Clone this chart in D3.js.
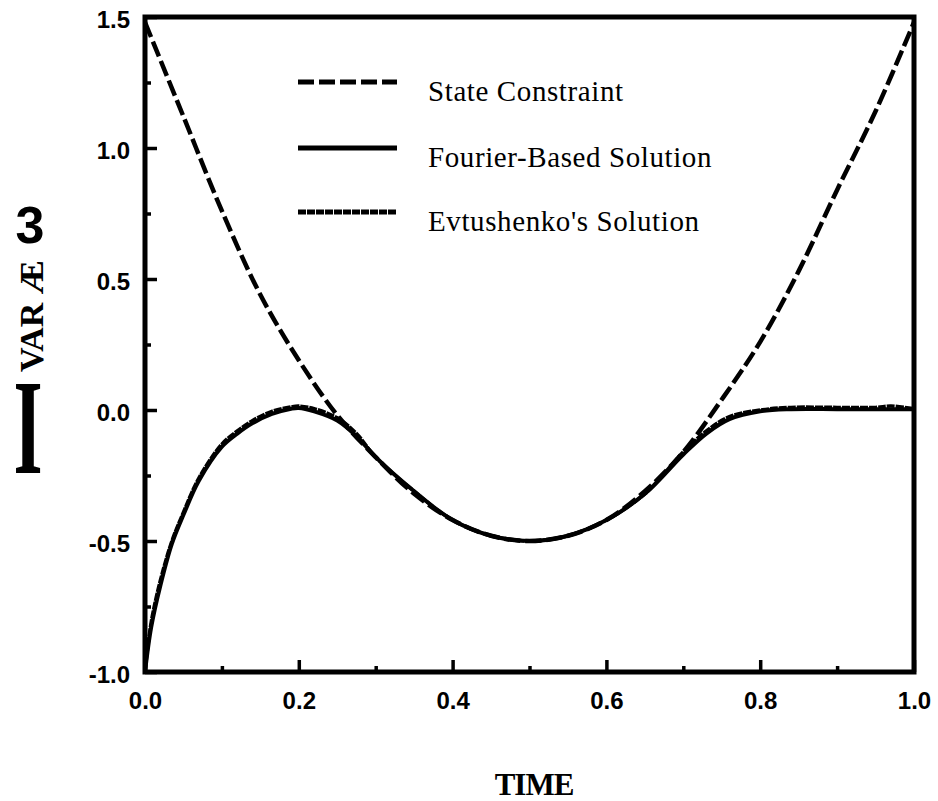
<!DOCTYPE html>
<html>
<head>
<meta charset="utf-8">
<script src="https://cdn.jsdelivr.net/npm/d3@7"></script>
<style>
  body { margin: 0; background: #fff; }
  svg { display: block; }
</style>
</head>
<body>
<div id="chart"></div>
<script>
// values
const constraintTime = [0, 0.05, 0.1, 0.15, 0.2, 0.25, 0.3, 0.35, 0.4, 0.45, 0.5, 0.55, 0.6, 0.65, 0.7, 0.75, 0.8, 0.85, 0.9, 0.95, 1.0];
const stateConstraint = [1.48, 1.12, 0.76, 0.44, 0.19, -0.02, -0.18, -0.32, -0.42, -0.48, -0.50, -0.48, -0.42, -0.31, -0.16, 0.04, 0.26, 0.53, 0.84, 1.14, 1.48];

const fourierTime = [0, 0.008, 0.02, 0.035, 0.05, 0.07, 0.1, 0.12, 0.14, 0.165, 0.19, 0.2, 0.22, 0.25, 0.275, 0.3, 0.35, 0.4, 0.45, 0.5, 0.55, 0.6, 0.65, 0.7, 0.73, 0.76, 0.8, 0.84, 0.9, 0.95, 1.0];
const fourierSolution = [-1.0, -0.83, -0.67, -0.51, -0.40, -0.27, -0.14, -0.09, -0.05, -0.015, 0.005, 0.008, -0.005, -0.04, -0.1, -0.18, -0.31, -0.42, -0.48, -0.5, -0.48, -0.42, -0.32, -0.17, -0.09, -0.035, -0.005, 0.003, 0.003, 0.003, 0.003];

const evtushenkoTime = [0, 0.008, 0.02, 0.035, 0.05, 0.07, 0.1, 0.12, 0.14, 0.165, 0.19, 0.2, 0.22, 0.25, 0.275, 0.3, 0.35, 0.4, 0.45, 0.5, 0.55, 0.6, 0.65, 0.7, 0.73, 0.76, 0.8, 0.84, 0.9, 0.95, 0.97, 1.0];
const evtushenkoSolution = [-1.0, -0.81, -0.65, -0.50, -0.39, -0.26, -0.13, -0.08, -0.04, -0.005, 0.012, 0.015, 0.005, -0.03, -0.09, -0.18, -0.31, -0.42, -0.48, -0.5, -0.48, -0.42, -0.32, -0.16, -0.08, -0.025, 0.0, 0.01, 0.01, 0.01, 0.015, 0.005];

const xTicks = [0, 0.2, 0.4, 0.6, 0.8, 1.0];
const xMinorTicks = [0.1, 0.3, 0.5, 0.7, 0.9];
const yTicks = [-1.0, -0.5, 0.0, 0.5, 1.0, 1.5];
const yMinorTicks = [-0.75, -0.25, 0.25, 0.75, 1.25];

const legendLabels = ["State Constraint", "Fourier-Based Solution", "Evtushenko's Solution"];

var width = 938, height = 801;
var svg = d3.select("#chart").append("svg")
  .attr("width", width)
  .attr("height", height);

var x = d3.scaleLinear().domain([0, 1]).range([145, 914]);
var y = d3.scaleLinear().domain([-1, 1.5]).range([672, 17]);

var fmt = function(d) { return d.toFixed(1); };

// minor ticks
svg.append("g")
  .attr("transform", "translate(0," + y(-1) + ")")
  .call(d3.axisBottom(x).tickValues(xMinorTicks).tickSizeInner(-6).tickSizeOuter(0).tickFormat(""))
  .call(g => g.select(".domain").remove());
svg.append("g")
  .attr("transform", "translate(" + x(0) + ",0)")
  .call(d3.axisLeft(y).tickValues(yMinorTicks).tickSizeInner(-6).tickSizeOuter(0).tickFormat(""))
  .call(g => g.select(".domain").remove());

// major ticks + labels
var xAxis = svg.append("g")
  .attr("transform", "translate(0," + y(-1) + ")")
  .call(d3.axisBottom(x).tickValues(xTicks).tickSizeInner(-12).tickSizeOuter(0).tickPadding(20).tickFormat(fmt));
xAxis.select(".domain").remove();

var yAxis = svg.append("g")
  .attr("transform", "translate(" + x(0) + ",0)")
  .call(d3.axisLeft(y).tickValues(yTicks).tickSizeInner(-12).tickSizeOuter(0).tickPadding(15).tickFormat(fmt));
yAxis.select(".domain").remove();

svg.selectAll(".tick line").attr("stroke", "#000").attr("stroke-width", 3.5);
svg.selectAll(".tick text")
  .attr("fill", "#000")
  .style("font-family", "'Liberation Sans', Arial, sans-serif")
  .style("font-weight", "bold")
  .style("font-size", "24px");
yAxis.selectAll(".tick text").attr("dy", "0.45em");

// frame
svg.append("rect")
  .attr("x", x(0))
  .attr("y", y(1.5))
  .attr("width", x(1) - x(0))
  .attr("height", y(-1) - y(1.5))
  .attr("fill", "none")
  .attr("stroke", "#000")
  .attr("stroke-width", 5);

// curves
var line = d3.line()
  .x(d => x(d[0]))
  .y(d => y(d[1]))
  .curve(d3.curveCatmullRom.alpha(0.5));

svg.append("path")
  .datum(d3.zip(constraintTime, stateConstraint))
  .attr("fill", "none")
  .attr("stroke", "#000")
  .attr("stroke-width", 4.5)
  .attr("stroke-dasharray", "16,5")
  .attr("d", line);

svg.append("path")
  .datum(d3.zip(evtushenkoTime, evtushenkoSolution))
  .attr("fill", "none")
  .attr("stroke", "#000")
  .attr("stroke-width", 3.5)
  .attr("stroke-dasharray", "8,1")
  .attr("d", line);

svg.append("path")
  .datum(d3.zip(fourierTime, fourierSolution))
  .attr("fill", "none")
  .attr("stroke", "#000")
  .attr("stroke-width", 4)
  .attr("d", line);

// legend
var legendY = [82, 148, 212];
var legendDash = ["16,5", null, "8,1"];
var legend = svg.append("g").attr("class", "legend");
legendLabels.forEach(function(lbl, i) {
  legend.append("line")
    .attr("x1", 298).attr("x2", 397)
    .attr("y1", legendY[i]).attr("y2", legendY[i])
    .attr("stroke", "#000")
    .attr("stroke-width", 5)
    .attr("stroke-dasharray", legendDash[i]);
  legend.append("text")
    .attr("x", 428)
    .attr("y", legendY[i] + 19)
    .style("font-family", "'Liberation Serif', 'Times New Roman', serif")
    .style("font-size", "29px")
    .style("letter-spacing", "0.6px")
    .text(lbl);
});

// x axis title
svg.append("text")
  .attr("x", 534)
  .attr("y", 795)
  .attr("text-anchor", "middle")
  .style("font-family", "'Liberation Serif', 'Times New Roman', serif")
  .style("font-weight", "bold")
  .style("font-size", "31px")
  .style("letter-spacing", "-1px")
  .text("TIME");

// y axis title (garbled scan text kept as-is)
var yt = svg.append("g").attr("class", "y-title");
yt.append("text")
  .attr("transform", "translate(28,473) scale(0.55,1)")
  .attr("text-anchor", "middle")
  .style("font-family", "'Liberation Serif', 'Times New Roman', serif")
  .style("font-weight", "bold")
  .style("font-size", "136px")
  .text("I");
yt.append("text")
  .attr("transform", "translate(43,372) rotate(-90)")
  .style("font-family", "'Liberation Serif', 'Times New Roman', serif")
  .style("font-weight", "bold")
  .style("font-size", "34px")
  .text("VAR Æ");
yt.append("text")
  .attr("x", 30)
  .attr("y", 243)
  .attr("text-anchor", "middle")
  .style("font-family", "'Liberation Sans', Arial, sans-serif")
  .style("font-weight", "bold")
  .style("font-size", "52px")
  .text("3");
</script>
</body>
</html>
